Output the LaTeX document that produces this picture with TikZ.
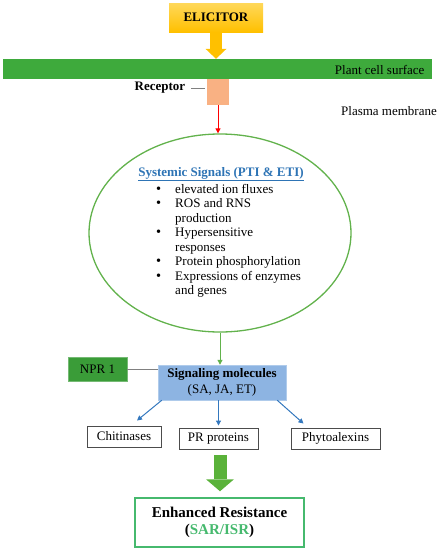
\documentclass[tikz,border=0pt]{standalone}
\usepackage{fontspec}
\setmainfont{Liberation Serif}
\usepackage{tikz}
\usetikzlibrary{positioning,arrows.meta,shapes.geometric}
\usepackage{xcolor}
\definecolor{elicit}{RGB}{255,192,0}
\definecolor{elicitlt}{RGB}{255,216,90}
\definecolor{surface}{RGB}{62,170,60}
\definecolor{recept}{RGB}{249,177,131}
\definecolor{ringgreen}{RGB}{98,178,76}
\definecolor{sigblue}{RGB}{141,180,226}
\definecolor{nprgreen}{RGB}{58,156,56}
\definecolor{linkblue}{RGB}{46,116,181}
\definecolor{arrowblue}{RGB}{52,120,190}
\definecolor{resgreen}{RGB}{70,185,110}
\definecolor{blockgreen}{RGB}{90,178,58}

\begin{document}
\begin{tikzpicture}[x=1pt,y=-1pt,
      font=\fontsize{13}{14.5}\selectfont,
      box/.style={draw=black!70,line width=0.9pt,minimum height=21pt,inner sep=0pt},
      thin/.style={draw=gray,line width=0.9pt},
      link/.style={line width=1pt,-{Triangle[length=5pt,width=5pt]}},
      bluelink/.style={arrowblue,line width=1pt,-{Triangle[length=5pt,width=5pt]}}
    ]
      \useasboundingbox (0,0) rectangle (441,550);
      \node[top color=elicitlt,bottom color=elicit,minimum width=94pt,minimum height=29pt] (elicitor) at (216,17.5) {\textbf{ELICITOR}};
      \node[fill=surface,minimum width=429pt,minimum height=20pt,inner sep=0pt] (surface) at (217.5,69) {};
      \node[anchor=east] (surfname) at (428,70) {Plant cell surface};
      \node[fill=recept,minimum width=22pt,minimum height=26pt,inner sep=0pt] (receptor) at (218,92) {};
      \node (recname) at (160,88) {\textbf{Receptor}};
      \node (plasma) at (389,111) {Plasma membrane};
      \node[ellipse,draw=ringgreen,line width=1.3pt,minimum width=262pt,minimum height=198pt,inner sep=0pt] (signals) at (220,233) {};
      \node (sigtitle) at (221,174) {\textcolor{linkblue}{\textbf{\underline{Systemic Signals (PTI \& ETI)}}}};
      \node[anchor=north west,inner sep=0pt] (siglist) at (156,183) {%
        \begin{tabular}{@{}l@{\hspace{14pt}}l@{}}
          {\Large\textbullet} & elevated ion fluxes\\
          {\Large\textbullet} & ROS and RNS\\
                      & production\\
          {\Large\textbullet} & Hypersensitive\\
                      & responses\\
          {\Large\textbullet} & Protein phosphorylation\\
          {\Large\textbullet} & Expressions of enzymes\\
                      & and genes
        \end{tabular}};
      \node[fill=sigblue,draw=sigblue!70!white,minimum width=128pt,minimum height=35pt,align=center,inner sep=0pt] (molecules) at (222,382.5) {\textbf{Signaling molecules}\\[1.5pt](SA, JA, ET)};
      \node[fill=nprgreen,draw=nprgreen!70!white,minimum width=59pt,minimum height=24pt] (npr) at (97.5,369) {NPR 1};
      \node[box,minimum width=74pt] (chit) at (124,436.5) {Chitinases};
      \node[box,minimum width=79pt] (prot) at (218.5,438.5) {PR proteins};
      \node[box,minimum width=89pt] (phyto) at (335.5,438.5) {Phytoalexins};
      \node[draw=resgreen,line width=1.5pt,minimum width=169pt,minimum height=49pt,align=center,font=\fontsize{15}{16.5}\selectfont\bfseries] (resist) at (219.5,522.5) {Enhanced Resistance\\(\textcolor{resgreen}{SAR/ISR})};
      % connectors
      \draw[elicit,line width=12pt,-{Triangle[length=10pt,width=21pt,line width=0pt]}] (elicitor.south) -- (elicitor.south |- surface.north);
      \draw[thin,shorten <=2.5pt,shorten >=2pt] (recname.east) -- (recname.east -| receptor.west);
      \draw[link,red] (receptor.south) -- (receptor.south |- signals.north);
      \draw[link,ringgreen] (signals.south) -- (signals.south |- molecules.north);
      \draw[thin] (npr.east) -- (npr.east -| molecules.west);
      \draw[bluelink] ([xshift=4pt]molecules.south west) -- ([shift={(13,-5)}]chit.north);
      \draw[bluelink] (molecules.south -| prot.north) -- ([yshift=2pt]prot.north);
      \draw[bluelink] ([xshift=-9pt]molecules.south east) -- ([shift={(-32,-4)}]phyto.north);
      \draw[blockgreen,line width=13pt,-{Triangle[length=12pt,width=28pt,line width=0pt]}] ([shift={(1.5,6)}]prot.south) -- ([shift={(1.5,-6)}]prot.south |- resist.north);
    \end{tikzpicture}
\end{document}
